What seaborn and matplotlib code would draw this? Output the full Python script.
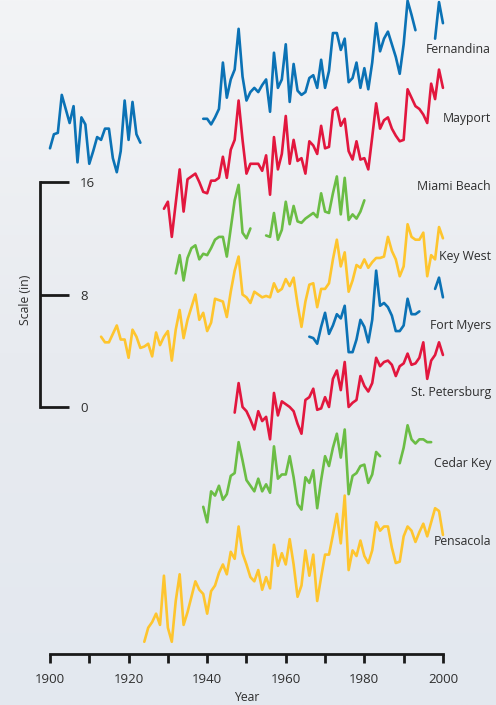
import numpy as np
import pandas as pd
import matplotlib
matplotlib.use("Agg")
import matplotlib.pyplot as plt
from matplotlib.colors import LinearSegmentedColormap
import seaborn as sns

nan = np.nan

# sea level, inches on the chart scale (annual values, gaps as nan)
fernandina_start = 1900
fernandina = [
    18.4, 19.4, 19.5, 22.2, 21.2, 20.2, 21.4, 17.4, 20.6, 20.1,   # 1900-09
    17.3, 18.2, 19.2, 19.0, 19.8, 19.8, 17.7, 16.7, 18.2, 21.8,   # 1910-19
    19.0, 21.7, 19.4, 18.8, nan, nan, nan, nan, nan, nan,         # 1920-29
    nan, nan, nan, nan, nan, nan, nan, nan, nan, 20.5,            # 1930-39
    20.5, 20.1, 20.6, 21.2, 24.5, 22.0, 23.3, 24.0, 26.9, 23.5,   # 1940-49
    21.8, 22.4, 22.7, 22.4, 22.9, 23.3, 21.0, 25.2, 22.7, 23.3,   # 1950-59
    25.8, 21.7, 24.4, 22.5, 22.2, 22.4, 23.4, 23.6, 22.7, 24.7,   # 1960-69
    22.7, 23.9, 26.6, 26.6, 25.4, 26.2, 23.1, 23.4, 24.5, 22.7,   # 1970-79
    24.1, 22.6, 24.5, 27.3, 25.3, 26.2, 26.7, 25.8, 24.9, 23.7,   # 1980-89
    25.8, 28.9, 27.9, 26.8, nan, nan, nan, nan, 26.2, 28.8,       # 1990-99
    27.3,                                                         # 2000
]

mayport_start = 1929
mayport = [
    14.1,                                                         # 1929
    14.6, 12.1, 14.5, 16.9, 13.9, 16.2, 16.4, 16.6, 16.0, 15.3,   # 1930-39
    15.2, 16.1, 16.1, 16.3, 17.8, 16.3, 18.3, 19.0, 21.8, 19.0,   # 1940-49
    16.6, 17.3, 17.3, 17.3, 16.8, 17.9, 15.1, 19.2, 16.9, 18.0,   # 1950-59
    20.7, 17.3, 19.0, 17.5, 17.7, 16.6, 18.9, 18.6, 18.0, 20.0,   # 1960-69
    18.4, 18.5, 21.1, 21.3, 20.0, 20.5, 18.2, 17.6, 18.9, 17.6,   # 1970-79
    17.7, 16.9, 19.2, 21.6, 19.8, 20.4, 20.6, 19.8, 19.3, 18.9,   # 1980-89
    19.0, 22.6, 22.0, 21.4, 21.2, 20.8, 20.2, 23.0, 21.9, 24.0,   # 1990-99
    22.7,                                                         # 2000
]

miami_beach_start = 1932
miami_beach = [
    9.5, 10.8, 9.0, 10.6, 11.3, 11.5, 10.5, 10.9,                 # 1932-39
    10.8, 11.3, 11.9, 12.1, 12.1, 10.7, 12.7, 14.7, 15.8, 12.4,   # 1940-49
    12.0, 12.7, nan, nan, nan, 12.2, 12.1, 13.8, 11.9, 12.6,      # 1950-59
    14.6, 13.0, 14.3, 13.2, 13.1, 13.4, 13.6, 13.8, 13.5, 15.2,   # 1960-69
    13.9, 13.8, 15.2, 16.4, 13.7, 16.3, 13.3, 13.7, 13.4, 13.9,   # 1970-79
    14.7,                                                         # 1980
]

key_west_start = 1913
key_west = [
    5.0, 4.6, 4.6, 5.2, 5.8, 4.8, 4.8,                            # 1913-19
    3.5, 5.5, 5.0, 4.2, 4.3, 4.5, 3.6, 5.3, 4.4, 5.0,             # 1920-29
    5.4, 3.3, 5.5, 6.9, 4.9, 6.2, 7.1, 8.0, 6.2, 6.7,             # 1930-39
    5.4, 6.0, 7.7, 7.6, 7.5, 6.4, 8.2, 9.7, 10.7, 8.0,            # 1940-49
    7.8, 7.4, 8.2, 8.0, 7.8, 7.9, 7.8, 8.8, 8.2, 8.4,             # 1950-59
    9.1, 8.6, 9.2, 7.3, 5.7, 7.5, 8.7, 8.8, 7.1, 8.4,             # 1960-69
    8.4, 8.8, 10.5, 11.9, 10.0, 11.0, 8.2, 9.0, 10.1, 9.9,        # 1970-79
    10.5, 9.9, 10.3, 10.6, 10.6, 10.7, 12.1, 11.1, 10.5, 9.3,     # 1980-89
    10.0, 13.0, 12.1, 11.9, 11.9, 12.4, 9.3, 10.8, 10.5, 12.8,    # 1990-99
    12.0,                                                         # 2000
]

fort_myers_start = 1966
fort_myers = [
    5.0, 4.9, 4.5, 5.7,                                           # 1966-69
    6.7, 5.2, 5.8, 6.6, 6.3, 7.2, 3.9, 3.9, 4.8, 6.2,             # 1970-79
    5.7, 4.6, 6.2, 9.7, 7.2, 7.4, 7.1, 6.5, 5.4, 5.4,             # 1980-89
    5.8, 7.7, 6.6, 6.6, 6.8, nan, nan, nan, 8.4, 9.2,             # 1990-99
    7.8,                                                          # 2000
]

st_petersburg_start = 1947
st_petersburg = [
    -0.4, 1.7, 0.0,                                               # 1947-49
    -0.3, -0.9, -1.6, -0.3, -1.0, -0.7, -2.3, 1.0, -0.6, 0.4,     # 1950-59
    0.2, 0.0, -0.3, -1.2, -1.9, 0.5, 0.7, 1.3, -0.2, -0.1,        # 1960-69
    0.7, 0.0, 2.0, 2.6, 1.2, 3.2, 0.0, 0.3, 0.5, 2.2,             # 1970-79
    1.5, 1.1, 1.7, 3.5, 2.9, 3.2, 3.3, 3.0, 2.2, 2.9,             # 1980-89
    3.1, 3.8, 3.0, 3.1, 3.5, 4.6, 2.0, 3.3, 3.7, 4.6,             # 1990-99
    3.7,                                                          # 2000
]

cedar_key_start = 1939
cedar_key = [
    -7.1,                                                         # 1939
    -8.2, -6.0, -6.3, -5.6, -6.6, -6.2, -4.9, -4.7, -2.5, -3.8,   # 1940-49
    -5.2, -5.6, -6.0, -5.1, -6.0, -5.5, -6.1, -2.8, -5.1, -4.8,   # 1950-59
    -4.8, -3.5, -5.0, -6.9, -7.3, -5.0, -5.4, -4.5, -7.2, -5.2,   # 1960-69
    -3.5, -4.2, -2.9, -1.9, -3.6, -1.6, -6.2, -4.9, -4.7, -4.2,   # 1970-79
    -4.1, -5.4, -4.8, -3.2, -3.5, nan, nan, nan, nan, -4.0,       # 1980-89
    -2.9, -1.3, -2.3, -2.6, -2.3, -2.3, -2.5, -2.5,               # 1990-97
]

pensacola_start = 1924
pensacola = [
    -16.7, -15.7, -15.3, -14.7, -15.5, -12.0,                     # 1924-29
    -15.7, -16.7, -13.8, -11.9, -15.5, -14.6, -13.5, -12.4, -13.0, -13.3,  # 1930-39
    -14.7, -13.1, -12.7, -11.8, -11.2, -11.9, -10.3, -10.8, -8.5, -10.4,   # 1940-49
    -11.2, -12.1, -12.4, -11.6, -13.0, -12.1, -12.9, -9.8, -11.3, -10.4,   # 1950-59
    -11.2, -9.4, -11.2, -13.5, -12.7, -10.2, -12.0, -10.5, -13.8, -12.1,   # 1960-69
    -10.5, -10.5, -9.1, -7.6, -9.7, -6.3, -11.6, -10.2, -10.6, -9.5,       # 1970-79
    -10.6, -11.1, -10.2, -8.2, -8.8, -8.5, -8.5, -10.0, -11.1, -11.0,      # 1980-89
    -9.2, -8.5, -8.8, -9.6, -8.9, -8.3, -9.2, -8.2, -7.2, -7.4,            # 1990-99
    -9.1,                                                                  # 2000
]

series = [
    ("Fernandina", fernandina_start, fernandina),
    ("Mayport", mayport_start, mayport),
    ("Miami Beach", miami_beach_start, miami_beach),
    ("Key West", key_west_start, key_west),
    ("Fort Myers", fort_myers_start, fort_myers),
    ("St. Petersburg", st_petersburg_start, st_petersburg),
    ("Cedar Key", cedar_key_start, cedar_key),
    ("Pensacola", pensacola_start, pensacola),
]

palette = {
    "Fernandina": "#0b72b5",
    "Mayport": "#e2173e",
    "Miami Beach": "#6bbd45",
    "Key West": "#fec52e",
    "Fort Myers": "#0b72b5",
    "St. Petersburg": "#e2173e",
    "Cedar Key": "#6bbd45",
    "Pensacola": "#fec52e",
}

# vertical position of the station names (chart inches)
label_y = {
    "Fernandina": 25.4,
    "Mayport": 20.5,
    "Miami Beach": 15.7,
    "Key West": 10.7,
    "Fort Myers": 5.8,
    "St. Petersburg": 1.0,
    "Cedar Key": -4.0,
    "Pensacola": -9.6,
}

frames = []
for name, start, vals in series:
    df = pd.DataFrame({"year": np.arange(start, start + len(vals)), "level": vals})
    df["station"] = name
    # new segment after every gap so lines break there
    df["seg"] = name + df["level"].isna().cumsum().astype(str)
    frames.append(df.dropna())
data = pd.concat(frames, ignore_index=True)

sns.set_style("white")
plt.rcParams["font.family"] = ["Open Sans", "DejaVu Sans"]

W, H = 496, 705
fig = plt.figure(figsize=(W / 100, H / 100), dpi=100)

# faded photo backdrop, approximated by a soft gradient
bg = fig.add_axes([0, 0, 1, 1], zorder=-1)
grad = np.linspace(0, 1, 256).reshape(-1, 1)
cmap = LinearSegmentedColormap.from_list("bg", ["#f3f4f6", "#e8ebf0", "#e3e8ef"])
bg.imshow(grad, aspect="auto", cmap=cmap, extent=[0, 1, 0, 1], origin="upper")
bg.axis("off")

ax = fig.add_axes([40 / W, 51 / H, 456 / W, 654 / H])
ax.patch.set_alpha(0)

sns.lineplot(data=data, x="year", y="level", hue="station", units="seg",
             estimator=None, palette=palette, legend=False, lw=1.9, ax=ax)
for line in ax.lines:
    line.set_clip_on(False)

ax.set_xlim(1897.46, 2013.5)
ax.set_ylim(-17.57, 28.95)

for name in label_y:
    ax.text(2012.2, label_y[name], name, ha="right", va="center",
            fontsize=8.8, color="#2e2e2e")

for s in ["top", "right"]:
    ax.spines[s].set_visible(False)
ax.spines["left"].set_bounds(0, 16)
ax.spines["bottom"].set_bounds(1900, 2000)
for s in ["left", "bottom"]:
    ax.spines[s].set_linewidth(2.0)
    ax.spines[s].set_color("#1a1a1a")

years = list(range(1900, 2001, 10))
ax.set_xticks(years)
ax.set_xticklabels([str(y) if y % 20 == 0 else "" for y in years])
ax.set_yticks([0, 8, 16])
ax.set_yticklabels(["0", "8", "16"])
ax.tick_params(axis="x", bottom=True, direction="out", length=6.5, width=2.0,
               pad=7, labelsize=9.5, colors="#1a1a1a", labelcolor="#2e2e2e")
ax.tick_params(axis="y", left=True, direction="in", length=21, width=2.0,
               pad=-29, labelsize=9.5, colors="#1a1a1a", labelcolor="#2e2e2e")
for t in ax.get_yticklabels():
    t.set_ha("left")

ax.set_xlabel("Year", fontsize=8.8, color="#2e2e2e")
ax.xaxis.set_label_coords(0.453, -0.056)
ax.set_ylabel("Scale (in)", fontsize=8.8, color="#2e2e2e")
ax.yaxis.set_label_coords(-0.0175, 0.541)

fig.savefig("out.png", dpi=100)
